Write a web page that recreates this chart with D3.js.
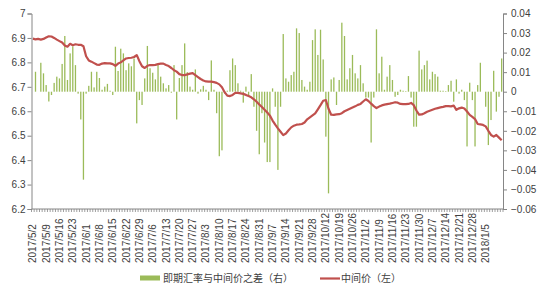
<!DOCTYPE html>
<html lang="zh">
<head>
<meta charset="utf-8">
<script src="https://cdn.jsdelivr.net/npm/d3@7"></script>
<style>
  body { margin: 0; background: #fff; }
  svg text { font-family: "Liberation Sans", Arial, sans-serif; fill: #404040; }
  .legend text { font-family: "Noto Sans CJK SC", sans-serif; }
</style>
</head>
<body>
<svg width="545" height="286"></svg>
<script>
// labels every 5 trading days (2017/5/2 .. 2018/1/8, 177 trading days)
var tickLabels = ["2017/5/2","2017/5/9","2017/5/16","2017/5/23","2017/6/1","2017/6/8","2017/6/15",
  "2017/6/22","2017/6/29","2017/7/6","2017/7/13","2017/7/20","2017/7/27","2017/8/3","2017/8/10",
  "2017/8/17","2017/8/24","2017/8/31","2017/9/7","2017/9/14","2017/9/21","2017/9/28","2017/10/12",
  "2017/10/19","2017/10/26","2017/11/2","2017/11/9","2017/11/16","2017/11/23","2017/11/30",
  "2017/12/7","2017/12/14","2017/12/21","2017/12/28","2018/1/5"];

// 中间价 (left axis)
var midRate = [
  6.897,6.894,6.896,6.893,6.896,6.902,6.907,6.906,6.900,6.893,
  6.887,6.881,6.869,6.864,6.876,6.870,6.874,6.872,6.872,6.866,
  6.825,6.808,6.803,6.797,6.791,6.790,6.795,6.797,6.796,6.796,
  6.793,6.786,6.795,6.800,6.808,6.816,6.818,6.819,6.822,6.830,
  6.805,6.784,6.777,6.786,6.789,6.789,6.790,6.793,6.795,6.795,
  6.789,6.785,6.777,6.768,6.762,6.752,6.748,6.748,6.751,6.754,
  6.756,6.748,6.740,6.732,6.726,6.722,6.721,6.721,6.719,6.716,
  6.710,6.698,6.678,6.664,6.662,6.667,6.675,6.675,6.673,6.671,
  6.667,6.662,6.657,6.649,6.639,6.628,6.617,6.606,6.595,6.582,
  6.562,6.545,6.530,6.516,6.502,6.509,6.522,6.534,6.541,6.545,
  6.546,6.548,6.554,6.567,6.575,6.583,6.591,6.608,6.625,6.643,
  6.646,6.610,6.586,6.585,6.587,6.588,6.592,6.600,6.605,6.610,
  6.615,6.620,6.626,6.630,6.640,6.649,6.642,6.631,6.621,6.613,
  6.619,6.624,6.627,6.629,6.631,6.634,6.637,6.635,6.630,6.629,
  6.629,6.630,6.634,6.625,6.603,6.586,6.587,6.592,6.598,6.602,
  6.606,6.610,6.613,6.616,6.618,6.621,6.621,6.620,6.623,6.606,
  6.612,6.615,6.611,6.599,6.585,6.577,6.568,6.548,6.546,6.544,
  6.538,6.520,6.503,6.496,6.503,6.492,6.481];

// 即期汇率与中间价之差 (right axis)
var spread = [
  0,0.0102,0,0.0148,0.0094,0.0034,-0.005,-0.0017,0.0045,0.0077,
  0.0068,0.0142,0.0285,0.006,0.0196,0.0232,0.0136,-0.001,-0.0142,-0.045,
  -0.001,0.003,0.0102,0.0022,0.0102,0.007,0.001,0.0026,0.004,0.0005,
  -0.0017,0.023,0.0106,0.022,0.0196,0.011,0.0145,0.013,0.017,-0.0162,
  -0.0043,-0.0068,0.0068,0.0234,0.012,0.0097,0.0063,0.0136,0.0077,0.0043,
  0.0017,0.0034,-0.0005,0.0136,-0.0142,0.007,0.0136,0.0247,0.010,0.0026,
  0.001,0.0114,-0.001,0.0012,0.003,0.001,-0.0043,0.016,0.001,-0.011,
  -0.033,-0.030,-0.001,0.0005,0.011,0.017,0.0136,0.0043,0.0005,-0.0056,
  0.0026,-0.002,0.009,-0.0077,-0.020,-0.032,-0.011,-0.026,-0.036,-0.036,
  0.0017,-0.0077,-0.040,-0.0077,0.0295,0.0068,0.0051,0.0085,0.0102,0.0324,
  0.030,0.006,0.0026,0.001,0.0051,0.0264,0.0319,0.0188,0.0317,0.0165,
  -0.023,-0.052,0.0063,0.0073,-0.0068,0.006,0.0353,0.0285,0.0063,0.012,
  0.0188,0.0094,0.0068,0.0136,0.0043,-0.003,-0.003,-0.026,-0.003,0.0319,
  0.0094,0.0179,0.001,0.0077,0.0136,0.006,-0.0026,-0.0017,0.001,0.0005,
  0.0003,0.008,-0.003,-0.0179,-0.0179,0.021,0.0114,0.0136,0.0159,0.0063,
  0.0102,0.009,0.0077,0.0005,0.0005,0.0003,0.0034,0.0056,-0.0051,0.0063,
  -0.001,0.001,-0.0043,-0.028,0.0046,-0.0043,-0.028,0.0034,0.0148,0,
  -0.0077,-0.0273,-0.0145,0.0107,-0.0102,-0.0026,0.017];

var leftTicks = [6.2, 6.3, 6.4, 6.5, 6.6, 6.7, 6.8, 6.9, 7];
var rightTicks = [-0.06, -0.05, -0.04, -0.03, -0.02, -0.01, 0, 0.01, 0.02, 0.03, 0.04];
var legendNames = ["即期汇率与中间价之差（右）", "中间价（左）"];

var svg = d3.select("svg");
var plotL = 31.5, plotR = 503, plotT = 13.5, plotB = 209;
var axisColor = "#868686";

var x = d3.scaleBand().domain(d3.range(midRate.length)).range([plotL, plotR]);
var yL = d3.scaleLinear().domain([6.2, 7]).range([plotB, plotT]);
var yR = d3.scaleLinear().domain([-0.06, 0.04]).range([plotB, plotT]);
var cx = function(i) { return x(i) + x.bandwidth() / 2; };

// bars
svg.append("g")
  .selectAll("rect")
  .data(spread)
  .enter().append("rect")
    .attr("x", function(d, i) { return cx(i) - 0.65; })
    .attr("width", 1.3)
    .attr("y", function(d) { return Math.min(yR(d), yR(0)); })
    .attr("height", function(d) { return Math.abs(yR(d) - yR(0)); })
    .attr("fill", "#9BBB59");

// line
var line = d3.line()
  .x(function(d, i) { return cx(i); })
  .y(function(d) { return yL(d); });

svg.append("path")
  .datum(midRate)
  .attr("d", line)
  .attr("fill", "none")
  .attr("stroke", "#C0504D")
  .attr("stroke-width", 2.2)
  .attr("stroke-linejoin", "round");

// left axis
var gl = svg.append("g")
  .attr("transform", "translate(" + plotL + ",0)")
  .call(d3.axisLeft(yL).tickValues(leftTicks).tickSize(4).tickPadding(2)
    .tickFormat(function(d) { return d === 7 ? "7" : d3.format(".1f")(d); }));

// right axis
var gr = svg.append("g")
  .attr("transform", "translate(" + plotR + ",0)")
  .call(d3.axisRight(yR).tickValues(rightTicks).tickSize(4).tickPadding(4)
    .tickFormat(function(d) { return d === 0 ? "0" : d3.format(".2f")(d); }));

[gl, gr].forEach(function(g) {
  g.select(".domain").attr("stroke", axisColor);
  g.selectAll(".tick line").attr("stroke", axisColor);
  g.selectAll(".tick text").attr("font-size", 10).attr("fill", "#404040")
    .style("font-family", "'Liberation Sans', Arial, sans-serif");
});

// x axis
svg.append("line")
  .attr("x1", plotL).attr("x2", plotR)
  .attr("y1", plotB).attr("y2", plotB)
  .attr("stroke", axisColor);

svg.append("g")
  .selectAll("line")
  .data(d3.range(midRate.length + 1))
  .enter().append("line")
    .attr("x1", function(i) { return i < midRate.length ? x(i) : plotR; })
    .attr("x2", function(i) { return i < midRate.length ? x(i) : plotR; })
    .attr("y1", plotB).attr("y2", plotB + 3)
    .attr("stroke", axisColor)
    .attr("stroke-width", 0.8);

svg.append("g")
  .selectAll("text")
  .data(tickLabels)
  .enter().append("text")
    .attr("transform", function(d, k) { return "translate(" + (cx(k * 5) + 3.5) + ",263) rotate(-90)"; })
    .attr("text-anchor", "start")
    .attr("font-size", 10)
    .text(function(d) { return d; });

// legend
var lg = svg.append("g").attr("class", "legend");
lg.append("rect")
  .attr("x", 140).attr("y", 275.5).attr("width", 20).attr("height", 5)
  .attr("fill", "#9BBB59");
lg.append("text")
  .attr("x", 163).attr("y", 282)
  .attr("font-size", 10)
  .text(legendNames[0]);
lg.append("line")
  .attr("x1", 320).attr("x2", 340).attr("y1", 278.5).attr("y2", 278.5)
  .attr("stroke", "#C0504D").attr("stroke-width", 2.2);
lg.append("text")
  .attr("x", 341).attr("y", 282)
  .attr("font-size", 10)
  .text(legendNames[1]);
</script>
</body>
</html>
